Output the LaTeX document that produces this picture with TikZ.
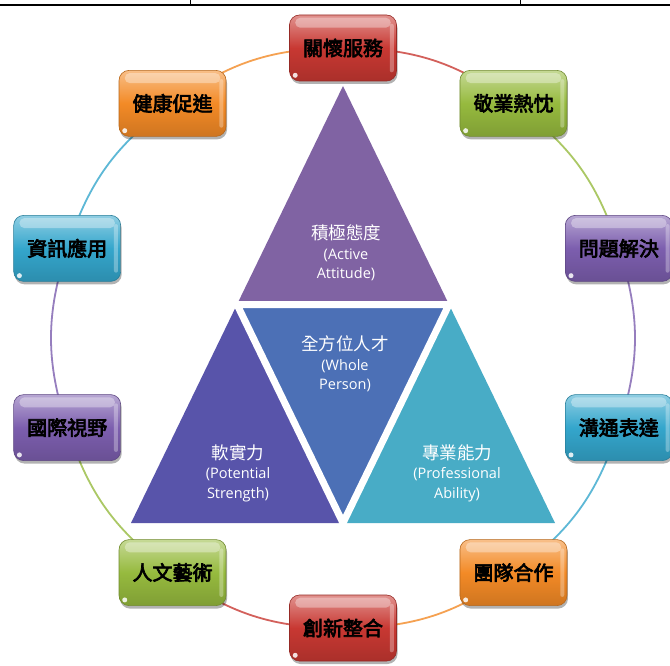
\documentclass[tikz,border=0pt]{standalone}
\usepackage{fontspec}
\setmainfont{Open Sans}
\newfontfamily\cjk{Noto Sans CJK TC}
\newfontfamily\cjkbold[FakeBold=3.5]{Noto Sans CJK TC}
\usetikzlibrary{shadows,calc,backgrounds}
\definecolor{cred}{RGB}{200,56,50}
\definecolor{corange}{RGB}{243,138,38}
\definecolor{cgreen}{RGB}{150,186,62}
\definecolor{caqua}{RGB}{52,166,204}
\definecolor{cpurple}{RGB}{124,94,174}
\definecolor{ttop}{RGB}{128,99,163}
\definecolor{tcenter}{RGB}{76,112,182}
\definecolor{tleft}{RGB}{88,84,170}
\definecolor{tright}{RGB}{72,172,198}
\tikzset{
  gbox/.style={rounded corners=10pt, minimum width=107pt, minimum height=66pt,
    inner sep=0pt, draw=#1!75!black, line width=0.6pt,
    top color=#1!55!white, bottom color=#1!85!black, middle color=#1,
    drop shadow={shadow xshift=1pt, shadow yshift=-3pt, opacity=0.3, fill=black},
    text=black, font=\cjkbold\fontsize{20}{20}\selectfont},
  ttext/.style={text=white, align=center, inner sep=0pt,
    font=\fontsize{14.5}{19.5}\selectfont},
  ringline/.style={draw=#1!80!white, line width=1.8pt}
}
\begin{document}
\begin{tikzpicture}[x=1pt,y=-1pt]
\useasboundingbox (0,0) rectangle (670,666);
\begin{scope}[on background layer]
\fill[white] (0,0) rectangle (670,666);
\end{scope}
% top table border
\draw[line width=2pt] (0,5) -- (670,5);
\draw[line width=1pt] (190,0) -- (190,5);
\draw[line width=1pt] (520,0) -- (520,5);
% triangles
\coordinate (A) at (343,86);
\coordinate (L) at (131,523);
\coordinate (R) at (555,523);
\coordinate (ML) at ($(A)!0.5!(L)$);
\coordinate (MR) at ($(A)!0.5!(R)$);
\coordinate (MB) at ($(L)!0.5!(R)$);
\fill[ttop] (A) -- (ML) -- (MR) -- cycle;
\fill[tleft] (ML) -- (L) -- (MB) -- cycle;
\fill[tright] (MR) -- (MB) -- (R) -- cycle;
\fill[tcenter] (ML) -- (MR) -- (MB) -- cycle;
\draw[white, line width=7pt] (ML) -- (MR) -- (MB) -- cycle;
\node[ttext] (ttopt) at (346,253) {{\cjk\fontsize{17.5}{19.5}\selectfont 積極態度}\\(Active\\Attitude)};
\node[ttext] (tcent) at (345,364) {{\cjk\fontsize{17.5}{19.5}\selectfont 全方位人才}\\(Whole\\Person)};
\node[ttext] (tleftt) at (238,473) {{\cjk\fontsize{17.5}{19.5}\selectfont 軟實力}\\(Potential\\Strength)};
\node[ttext] (trightt) at (457,473) {{\cjk\fontsize{17.5}{19.5}\selectfont 專業能力}\\(Professional\\Ability)};
% boxes
\coordinate (C) at (343,338);
\foreach \i/\col/\txt in {0/cred/關懷服務, 1/cgreen/敬業熱忱, 2/cpurple/問題解決,
  3/caqua/溝通表達, 4/corange/團隊合作, 5/cred/創新整合, 6/cgreen/人文藝術,
  7/cpurple/國際視野, 8/caqua/資訊應用, 9/corange/健康促進}{
  \node[gbox=\col] (b\i) at ($(C)+({-90+36*\i}:290)$) {\txt};
  \fill[white, opacity=0.35, rounded corners=5pt]
    ([xshift=6pt,yshift=-3pt]b\i.north west) rectangle ([xshift=-6pt,yshift=-13pt]b\i.north east);
  \fill[white, opacity=0.3, rounded corners=2pt]
    ([xshift=-7pt,yshift=-9pt]b\i.north east) rectangle ([xshift=-3pt,yshift=9pt]b\i.south east);
  \fill[white, opacity=0.85] ([xshift=6pt,yshift=6pt]b\i.south west) circle (2.5);
}
% ring
\begin{scope}[on background layer]
\foreach \i/\col in {0/cred, 1/cgreen, 2/cpurple, 3/caqua, 4/corange,
  5/cred, 6/cgreen, 7/cpurple, 8/caqua, 9/corange}{
  \pgfmathtruncatemacro\nxt{mod(\i+1,10)}
  \draw[ringline=\col] (b\i.center) to[bend left=18] (b\nxt.center);
}
\end{scope}
\end{tikzpicture}
\end{document}
